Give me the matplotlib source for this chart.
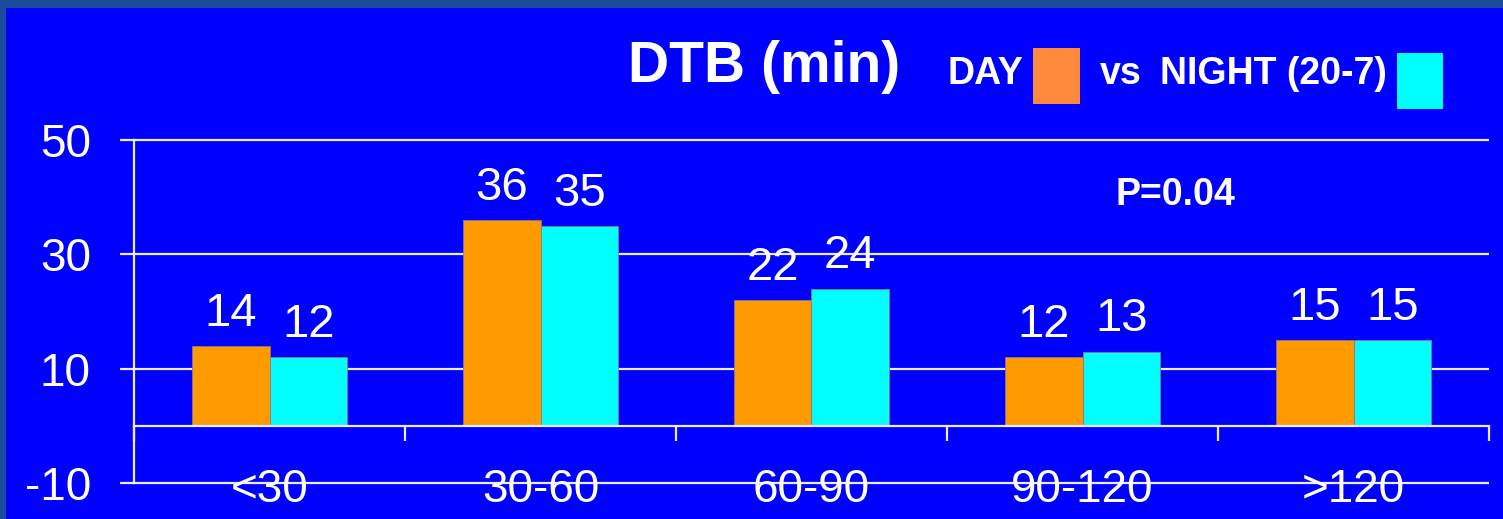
import matplotlib
matplotlib.use("Agg")
import matplotlib.pyplot as plt
from matplotlib.patches import Rectangle
import numpy as np

plt.rcParams['font.family'] = ['Liberation Sans', 'DejaVu Sans']

# Door-to-balloon time groups and share of patients (%)
categories = ["<30", "30-60", "60-90", "90-120", ">120"]
day_values = [14, 36, 22, 12, 15]
night_values = [12, 35, 24, 13, 15]
y_ticks = [-10, 10, 30, 50]

W, H = 1503, 519
fig = plt.figure(figsize=(W / 100, H / 100), dpi=100)
fig.patch.set_facecolor('#1b4a9c')

# slide panel
fig.add_artist(Rectangle((6 / W, 0), 1 - 6 / W, 1 - 8 / H, transform=fig.transFigure,
                         facecolor='#0000ff', edgecolor='none', zorder=0))

ax = fig.add_axes([134 / W, 1 - 483 / H, (1489 - 134) / W, (483 - 140) / H])
ax.set_facecolor('none')

x = np.arange(len(categories))
bw = 0.286
ax.bar(x - bw / 2, day_values, width=bw, color='#ff9900', edgecolor='#8a7a80',
       linewidth=0.6, zorder=3)
ax.bar(x + bw / 2, night_values, width=bw, color='#00ffff', edgecolor='#8a7a80',
       linewidth=0.6, zorder=3)

for xi, v in zip(x - bw / 2, day_values):
    ax.annotate(str(v), (xi, v), xytext=(0, 14.5), textcoords='offset points',
                ha='center', va='baseline', color='white', fontsize=34, zorder=5)
for xi, v in zip(x + bw / 2, night_values):
    ax.annotate(str(v), (xi, v), xytext=(0, 14.5), textcoords='offset points',
                ha='center', va='baseline', color='white', fontsize=34, zorder=5)

ax.set_xlim(-0.5, len(categories) - 0.5)
ax.set_ylim(y_ticks[0], y_ticks[-1])

grid_c = '#ececff'
ax.hlines(y_ticks, -0.5, len(categories) - 0.5, colors=grid_c, linewidth=1.6,
          zorder=1, clip_on=False)

ax.set_yticks(y_ticks)
ax.set_yticklabels([str(t) for t in y_ticks])
ax.tick_params(axis='y', direction='out', length=10, width=1.6, color=grid_c,
               labelcolor='white', labelsize=33, pad=21)

for s in ['top', 'right']:
    ax.spines[s].set_visible(False)
ax.spines['left'].set_color(grid_c)
ax.spines['left'].set_linewidth(1.6)
ax.spines['bottom'].set_position(('data', 0))
ax.spines['bottom'].set_color(grid_c)
ax.spines['bottom'].set_linewidth(1.6)
ax.spines['bottom'].set_zorder(4)

ax.set_xticks(np.arange(len(categories) + 1) - 0.5)
ax.set_xticklabels([])
ax.set_xticks(x, minor=True)
ax.set_xticklabels(categories, minor=True)
ax.tick_params(axis='x', which='major', direction='out', length=11, width=1.6,
               color=grid_c)
ax.tick_params(axis='x', which='minor', length=0, labelcolor='white',
               labelsize=33, pad=30)

# title and colour key
def fy(py):
    return 1 - py / H

fig.text(628 / W, fy(82), "DTB (min)", color='white', fontsize=41,
         fontweight='bold', ha='left', va='baseline')
fig.text(948 / W, fy(84), "DAY", color='white', fontsize=27,
         fontweight='bold', ha='left', va='baseline')
fig.add_artist(Rectangle((1033 / W, fy(104)), 47 / W, 56 / H, transform=fig.transFigure,
                         facecolor='#ff8a3d', edgecolor='none'))
fig.text(1100 / W, fy(84), "vs", color='white', fontsize=27,
         fontweight='bold', ha='left', va='baseline')
fig.text(1160 / W, fy(84), "NIGHT (20-7)", color='white', fontsize=27,
         fontweight='bold', ha='left', va='baseline')
fig.add_artist(Rectangle((1397 / W, fy(109)), 46 / W, 56 / H, transform=fig.transFigure,
                         facecolor='#00ffff', edgecolor='none'))
fig.text(1115 / W, fy(205), "P=0.04", color='white', fontsize=27,
         fontweight='bold', ha='left', va='baseline')

fig.savefig("out.png", dpi=100, facecolor=fig.get_facecolor())
